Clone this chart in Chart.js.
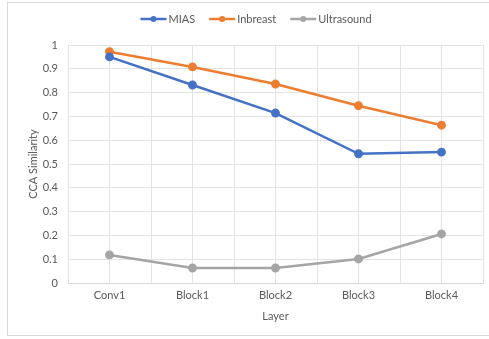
<!DOCTYPE html>
<html>
<head>
<meta charset="utf-8">
<script src="https://cdn.jsdelivr.net/npm/chart.js@4"></script>
<style>
  html, body { margin: 0; padding: 0; background: #fff; }
  #wrap { position: relative; width: 489px; height: 339px; }
  #frame { position: absolute; left: 7px; top: 2px; width: 490px; height: 334px; border: 1px solid #d9d9d9; box-sizing: border-box; }
  canvas { position: absolute; left: 0; top: 0; }
</style>
</head>
<body>
<div id="wrap">
  <div id="frame"></div>
  <canvas id="chart" width="489" height="339"></canvas>
</div>
<script>
// values
const categories = ['Conv1', 'Block1', 'Block2', 'Block3', 'Block4'];
const miasValues = [0.95, 0.832, 0.714, 0.543, 0.55];
const inbreastValues = [0.972, 0.908, 0.836, 0.745, 0.663];
const ultrasoundValues = [0.118, 0.063, 0.063, 0.101, 0.206];
const yTicks = [0, 0.1, 0.2, 0.3, 0.4, 0.5, 0.6, 0.7, 0.8, 0.9, 1];

const textColor = '#595959';
const gridColor = '#e3e3e3';
const fontFamily = 'Lato, "Liberation Sans", sans-serif';

function toPoints(values) {
    return values.map((v, i) => ({ x: i, y: v }));
}

function series(label, values, color) {
    return {
        label: label,
        data: toPoints(values),
        borderColor: color,
        backgroundColor: color,
        borderWidth: 2.5,
        pointRadius: 3.2,
        pointHoverRadius: 3.2,
        tension: 0
    };
}

// Excel style legend (line with a dot) plus the two axis titles
const decorations = {
    id: 'decorations',
    afterDraw(chart) {
        const ctx = chart.ctx;
        const sets = chart.data.datasets;
        const area = chart.chartArea;
        ctx.save();
        ctx.font = '11px ' + fontFamily;
        ctx.textBaseline = 'middle';
        const lineW = 26, gap = 2, itemGap = 14;
        const widths = sets.map(ds => ctx.measureText(ds.label).width);
        let total = itemGap * (sets.length - 1);
        widths.forEach(w => { total += lineW + gap + w; });
        let x = 256 - total / 2;
        const y = 19;
        sets.forEach((ds, i) => {
            ctx.strokeStyle = ds.borderColor;
            ctx.lineWidth = 2.5;
            ctx.beginPath();
            ctx.moveTo(x, y);
            ctx.lineTo(x + lineW, y);
            ctx.stroke();
            ctx.fillStyle = ds.borderColor;
            ctx.beginPath();
            ctx.arc(x + lineW / 2, y, 3, 0, Math.PI * 2);
            ctx.fill();
            ctx.fillStyle = textColor;
            ctx.textAlign = 'left';
            ctx.fillText(ds.label, x + lineW + gap, y);
            x += lineW + gap + widths[i] + itemGap;
        });

        // axis titles
        ctx.fillStyle = textColor;
        ctx.textAlign = 'center';
        ctx.fillText('Layer', (area.left + area.right) / 2, 316);
        ctx.translate(33, (area.top + area.bottom) / 2);
        ctx.rotate(-Math.PI / 2);
        ctx.fillText('CCA Similarity', 0, 0);
        ctx.restore();
    }
};

new Chart(document.getElementById('chart'), {
    type: 'line',
    data: {
        datasets: [
            series('MIAS', miasValues, '#4472C4'),
            series('Inbreast', inbreastValues, '#ED7D31'),
            series('Ultrasound', ultrasoundValues, '#A5A5A5')
        ]
    },
    options: {
        responsive: false,
        animation: false,
        layout: { padding: { top: 45, right: 2, left: 8, bottom: 0 } },
        plugins: {
            legend: { display: false },
            tooltip: { enabled: false }
        },
        scales: {
            x: {
                type: 'linear',
                min: -0.5,
                max: 4.5,
                afterBuildTicks(axis) {
                    const t = [];
                    for (let i = 0; i <= categories.length * 2; i++) t.push({ value: -0.5 + i * 0.5 });
                    axis.ticks = t;
                },
                afterFit(axis) { axis.height = 56; },
                ticks: {
                    autoSkip: false,
                    maxRotation: 0,
                    padding: 6,
                    color: textColor,
                    font: { family: fontFamily, size: 11 },
                    callback: v => Number.isInteger(v) ? categories[v] : ''
                },
                grid: { color: gridColor, drawTicks: false },
                border: { display: true, color: '#d9d9d9' }
            },
            y: {
                min: 0,
                max: 1,
                afterBuildTicks(axis) {
                    axis.ticks = yTicks.map(v => ({ value: v }));
                },
                afterFit(axis) { axis.width = 60; },
                ticks: {
                    padding: 10,
                    color: textColor,
                    font: { family: fontFamily, size: 11 },
                    callback: v => String(Math.round(v * 10) / 10)
                },
                grid: { color: gridColor, drawTicks: false },
                border: { display: false }
            }
        }
    },
    plugins: [decorations]
});
</script>
</body>
</html>
